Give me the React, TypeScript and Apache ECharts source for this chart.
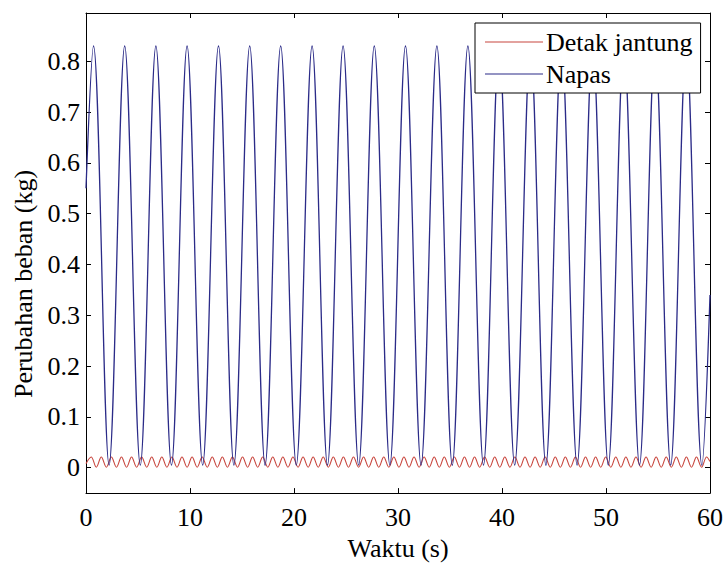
import React, { useEffect, useRef } from "react";
import * as echarts from "echarts";

// Time axis ticks (s)
const xTicks = [0, 10, 20, 30, 40, 50, 60];
// Value axis ticks (kg)
const yTicks = [0, 0.1, 0.2, 0.3, 0.4, 0.5, 0.6, 0.7, 0.8];

// Napas (breathing) — read extrema from the picture
const breathStart: [number, number] = [0, 0.55];
const breathEnd: [number, number] = [60, 0.34];
const breathPeakTimes = [0.72, 3.72, 6.72, 9.72, 12.74, 15.74, 18.72, 21.74, 24.72, 27.72, 30.72, 33.74, 36.72, 39.72, 42.74, 45.72, 48.72, 51.72, 54.72, 57.72];
const breathPeakValues = [0.83, 0.83, 0.83, 0.83, 0.83, 0.83, 0.83, 0.83, 0.83, 0.83, 0.83, 0.83, 0.83, 0.83, 0.83, 0.83, 0.83, 0.83, 0.83, 0.83];
const breathTroughTimes = [2.22, 5.22, 8.22, 11.22, 14.22, 17.22, 20.22, 23.22, 26.22, 29.22, 32.22, 35.22, 38.22, 41.22, 44.22, 47.22, 50.22, 53.22, 56.22, 59.22];
const breathTroughValues = [0.005, 0.005, 0.005, 0.005, 0.005, 0.005, 0.005, 0.005, 0.005, 0.005, 0.005, 0.005, 0.005, 0.005, 0.005, 0.005, 0.005, 0.005, 0.005, 0.005];

// Detak jantung (heart beat) — read extrema from the picture
const heartStart: [number, number] = [0, 0.008];
const heartEnd: [number, number] = [60, 0.012];
const heartPeakTimes = [0.5, 1.47, 2.44, 3.41, 4.38, 5.35, 6.32, 7.29, 8.26, 9.23, 10.2, 11.17, 12.14, 13.11, 14.08, 15.05, 16.02, 16.99, 17.96, 18.93, 19.9, 20.87, 21.84, 22.81, 23.78, 24.75, 25.72, 26.69, 27.66, 28.63, 29.6, 30.57, 31.54, 32.51, 33.48, 34.45, 35.42, 36.39, 37.36, 38.33, 39.3, 40.27, 41.24, 42.21, 43.18, 44.15, 45.12, 46.09, 47.06, 48.03, 49.0, 49.97, 50.94, 51.91, 52.88, 53.85, 54.82, 55.79, 56.76, 57.73, 58.7, 59.67];
const heartTroughTimes = [0.99, 1.96, 2.93, 3.9, 4.87, 5.84, 6.81, 7.78, 8.75, 9.72, 10.69, 11.66, 12.63, 13.6, 14.57, 15.54, 16.51, 17.48, 18.45, 19.42, 20.39, 21.36, 22.33, 23.3, 24.27, 25.24, 26.21, 27.18, 28.15, 29.12, 30.09, 31.06, 32.03, 33.0, 33.97, 34.94, 35.91, 36.88, 37.85, 38.82, 39.79, 40.76, 41.73, 42.7, 43.67, 44.64, 45.61, 46.58, 47.55, 48.52, 49.49, 50.46, 51.43, 52.4, 53.37, 54.34, 55.31, 56.28, 57.25, 58.22, 59.19];
const heartPeakValue = 0.021;
const heartTroughValue = 0.001;

const seriesNames = ["Detak jantung", "Napas"];

function buildBreath(): [number, number][] {
  const out: [number, number][] = [breathStart];
  for (let i = 0; i < breathPeakTimes.length; i++) {
    out.push([breathPeakTimes[i], breathPeakValues[i]]);
    if (i < breathTroughTimes.length) out.push([breathTroughTimes[i], breathTroughValues[i]]);
  }
  out.push(breathEnd);
  return out;
}

function buildHeart(): [number, number][] {
  const out: [number, number][] = [heartStart];
  for (let i = 0; i < heartPeakTimes.length; i++) {
    out.push([heartPeakTimes[i], heartPeakValue]);
    if (i < heartTroughTimes.length) out.push([heartTroughTimes[i], heartTroughValue]);
  }
  out.push(heartEnd);
  return out;
}

const FONT = "Times New Roman";

export default function App() {
  const ref = useRef<HTMLDivElement>(null);
  useEffect(() => {
    if (!ref.current) return;
    const chart = echarts.init(ref.current, undefined, { renderer: "svg" });
    const tickCommon = { inside: true, length: 5, lineStyle: { color: "#000", width: 1 } };
    const lineCommon = { show: true, onZero: false, lineStyle: { color: "#000", width: 1 } };
    chart.setOption({
      animation: false,
      backgroundColor: "#fff",
      textStyle: { fontFamily: FONT },
      grid: {
        left: 86,
        right: 16,
        top: 13,
        bottom: 61,
        show: false,
      },
      legend: {
        data: seriesNames,
        orient: "vertical",
        left: 475,
        top: 23,
        icon: "rect",
        itemWidth: 58,
        itemHeight: 1.2,
        itemGap: 6,
        padding: [6, 8, 6, 10],
        backgroundColor: "#fff",
        borderColor: "#000",
        borderWidth: 1,
        textStyle: { fontFamily: FONT, fontSize: 26, color: "#000", padding: [0, 0, 0, -2] },
      },
      xAxis: [
        {
          type: "value",
          min: 0,
          max: 60,
          interval: 10,
          position: "bottom",
          axisLine: lineCommon,
          axisTick: tickCommon,
          axisLabel: {
            color: "#000",
            fontFamily: FONT,
            fontSize: 26,
            margin: 11,
            customValues: xTicks,
          },
          splitLine: { show: false },
          name: "Waktu (s)",
          nameLocation: "middle",
          nameGap: 39,
          nameTextStyle: { color: "#000", fontFamily: FONT, fontSize: 26 },
        },
        {
          type: "value",
          min: 0,
          max: 60,
          interval: 10,
          position: "top",
          axisLine: lineCommon,
          axisTick: tickCommon,
          axisLabel: { show: false },
          splitLine: { show: false },
        },
      ],
      yAxis: [
        {
          type: "value",
          min: -0.05,
          max: 0.895,
          position: "left",
          axisLine: lineCommon,
          axisTick: { ...tickCommon, customValues: yTicks },
          axisLabel: {
            color: "#000",
            fontFamily: FONT,
            fontSize: 26,
            margin: 6,
            customValues: yTicks,
            formatter: (v: number) => String(Math.round(v * 10) / 10),
          },
          splitLine: { show: false },
        },
        {
          type: "value",
          min: -0.05,
          max: 0.895,
          position: "right",
          axisLine: lineCommon,
          axisTick: { ...tickCommon, customValues: yTicks },
          axisLabel: { show: false },
          splitLine: { show: false },
        },
      ],
      graphic: [
        {
          type: "text",
          x: 23,
          y: 284,
          rotation: Math.PI / 2,
          style: {
            text: "Perubahan beban (kg)",
            fontFamily: FONT,
            fontSize: 26,
            fill: "#000",
            textAlign: "center",
            textVerticalAlign: "middle",
          },
        },
      ],
      series: [
        {
          name: seriesNames[0],
          type: "line",
          xAxisIndex: 0,
          yAxisIndex: 0,
          data: buildHeart(),
          showSymbol: false,
          symbol: "none",
          smooth: 0.35,
          lineStyle: { color: "#c8463e", width: 1.1 },
          itemStyle: { color: "#c8463e" },
        },
        {
          name: seriesNames[1],
          type: "line",
          xAxisIndex: 0,
          yAxisIndex: 0,
          data: buildBreath(),
          showSymbol: false,
          symbol: "none",
          smooth: 0.35,
          lineStyle: { color: "#2b2b88", width: 1.3 },
          itemStyle: { color: "#2b2b88" },
        },
      ],
    });
    return () => chart.dispose();
  }, []);
  return (
    <div
      ref={ref}
      style={{ position: "absolute", left: 0, top: 0, width: 726, height: 566 }}
    />
  );
}
